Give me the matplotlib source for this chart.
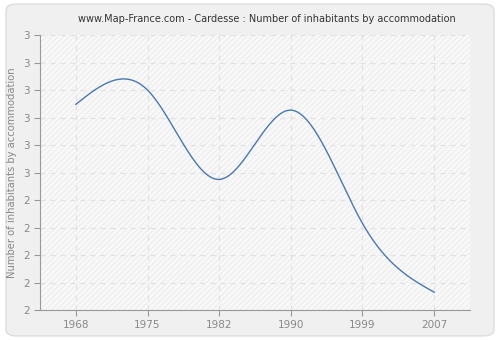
import numpy as np
import matplotlib.pyplot as plt
from matplotlib.patches import FancyBboxPatch, Rectangle

years = ["1968", "1975", "1982", "1990", "1999", "2007"]
values = [2.748, 2.80, 2.475, 2.727, 2.315, 2.065]

y_ticks = [2.0, 2.1, 2.2, 2.3, 2.4, 2.5, 2.6, 2.7, 2.8, 2.9, 3.0]
y_labels = ["2", "2", "2", "2", "2", "3", "3", "3", "3", "3", "3"]


def natural_spline(x, y, n=300):
    # natural cubic spline, just for drawing the smooth curve
    x = np.asarray(x, float)
    y = np.asarray(y, float)
    k = len(x)
    h = np.diff(x)
    A = np.zeros((k, k))
    b = np.zeros(k)
    A[0, 0] = A[-1, -1] = 1
    for i in range(1, k - 1):
        A[i, i - 1] = h[i - 1]
        A[i, i] = 2 * (h[i - 1] + h[i])
        A[i, i + 1] = h[i]
        b[i] = 3 * ((y[i + 1] - y[i]) / h[i] - (y[i] - y[i - 1]) / h[i - 1])
    c = np.linalg.solve(A, b)
    xs = np.linspace(x[0], x[-1], n)
    ys = np.empty_like(xs)
    for j, xv in enumerate(xs):
        i = min(np.searchsorted(x, xv, side="right") - 1, k - 2)
        dx = xv - x[i]
        bb = (y[i + 1] - y[i]) / h[i] - h[i] * (2 * c[i] + c[i + 1]) / 3
        d = (c[i + 1] - c[i]) / (3 * h[i])
        ys[j] = y[i] + bb * dx + c[i] * dx ** 2 + d * dx ** 3
    return xs, ys


fig = plt.figure(figsize=(5, 3.4), dpi=100)
fig.patch.set_facecolor("white")
fig.patches.append(FancyBboxPatch((0.012, 0.012), 0.976, 0.976,
                                  boxstyle="round,pad=0,rounding_size=0.02",
                                  transform=fig.transFigure, facecolor="#f0f0f0",
                                  edgecolor="#dddddd", linewidth=1, zorder=-10))

ax = fig.add_axes([0.08, 0.088, 0.86, 0.809])
ax.set_facecolor("#f8f8f8")
plt.rcParams["hatch.linewidth"] = 0.5
ax.add_patch(Rectangle((0, 0), 1, 1, transform=ax.transAxes, facecolor="none",
                       edgecolor="#e8e8e8", hatch="//////", linewidth=0, zorder=0))

pos = np.arange(len(years))
xs, ys = natural_spline(pos, values)
ax.plot(xs, ys, color="#4a78b0", linewidth=1, zorder=3)

ax.set_xlim(-0.5, 5.5)
ax.set_ylim(2.0, 3.0)
ax.set_xticks(pos)
ax.set_xticklabels(years)
ax.set_yticks(y_ticks)
ax.set_yticklabels(y_labels)

ax.grid(True, color="#e2e2e2", linestyle=(0, (4, 4)), linewidth=0.9, zorder=1)
ax.set_axisbelow(True)

for s in ["top", "right"]:
    ax.spines[s].set_visible(False)
for s in ["left", "bottom"]:
    ax.spines[s].set_color("#999999")
ax.tick_params(colors="#999999", labelcolor="#888888", labelsize=7.5, length=4)

ax.set_ylabel("Number of inhabitants by accommodation", fontsize=7.2, color="#888888")
fig.text(0.534, 0.945, "www.Map-France.com - Cardesse : Number of inhabitants by accommodation",
         fontsize=7, color="#333333", ha="center", va="center")

fig.savefig("out.png", dpi=100)
